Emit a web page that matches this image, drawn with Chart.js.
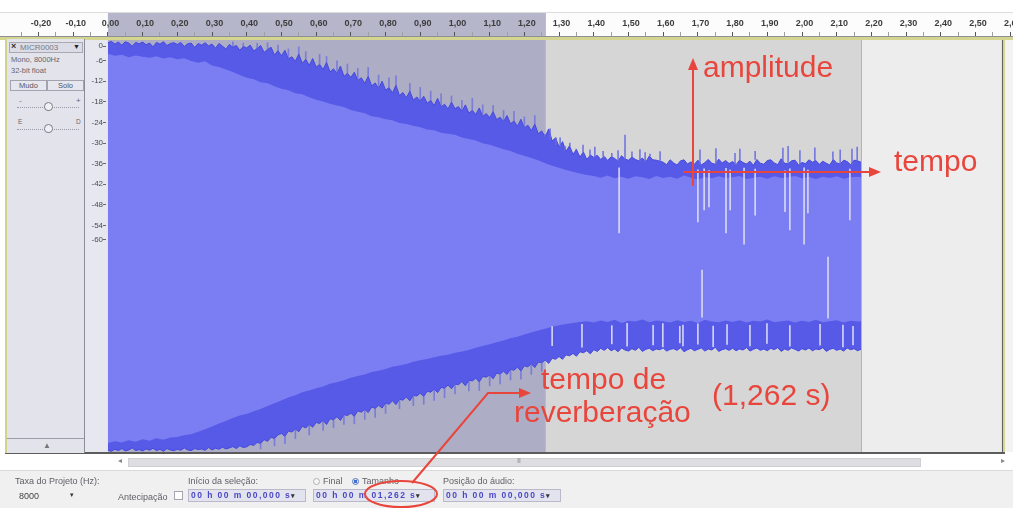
<!DOCTYPE html>
<html lang="pt">
<head>
<meta charset="utf-8">
<title>MICR0003 – tempo de reverberação</title>
<script src="https://cdn.jsdelivr.net/npm/chart.js@4.4.1/dist/chart.umd.min.js"></script>
<style>
  html, body { margin: 0; padding: 0; }
  body { width: 1013px; height: 508px; position: relative; overflow: hidden; background: #fff;
         font-family: "Liberation Sans", Arial, sans-serif; }
  #wave { position: absolute; left: 0; top: 0; }
  .abs { position: absolute; white-space: nowrap; }
  /* track control panel */
  .tp { position: absolute; left: 5px; top: 39px; width: 80px; height: 414px; box-sizing: border-box;
        background: #e3e3ec; border-left: 2px solid #d3d48c; border-right: 1px solid #8c8c98; }
  .namebox { left: 9px; top: 42px; width: 74px; height: 11px; border: 1px solid #a9a9b6; background: #dcdce6; box-sizing: border-box; }
  .small { font-size: 7.5px; color: #66666f; }
  .btn { top: 80px; height: 11px; border: 1px solid #a2a2b0; box-sizing: border-box; font-size: 7.5px; color: #55555e;
         text-align: center; line-height: 9px; background: #e6e6ee; }
  .track { height: 0; border-top: 1px dotted #9a9aa6; }
  .knob { width: 9px; height: 9px; border: 1px solid #7c7c88; border-radius: 50% 50% 45% 45%; background: #f1f1f5; box-sizing: border-box; }
  /* scroll + selection toolbar */
  .scroll { left: 128px; top: 458px; width: 793px; height: 9px; background: #dedee2; border: 1px solid #cfcfd4; box-sizing: border-box; }
  .bar { left: 0; top: 470px; width: 1013px; height: 38px; background: #f0f0f0; border-top: 1px solid #dadada; box-sizing: border-box; }
  .lbl { font-size: 9px; color: #5f5f66; }
  .field { height: 13px; top: 489px; background: #e3e3ef; border: 1px solid #b9b9c9; box-sizing: border-box;
           font-size: 8.5px; font-weight: bold; color: #4848c4; letter-spacing: 1.45px; line-height: 11px; padding-left: 2px; }
  .field i { font-style: normal; color: #333; letter-spacing: 0; font-size: 7px; }
  .radio { width: 7px; height: 7px; border-radius: 50%; box-sizing: border-box; top: 478px; }
  #notes { position: absolute; left: 0; top: 0; pointer-events: none; }
</style>
</head>
<body>
<canvas id="wave" width="1013" height="508"></canvas>

<!-- track control panel -->
<div class="tp"></div>
<div class="abs namebox"></div>
<div class="abs" style="left:11px;top:41px;font-size:9px;font-weight:bold;color:#333;">×</div>
<div class="abs small" style="left:20px;top:43px;font-size:8px;color:#7a7a84;">MICR0003</div>
<div class="abs" style="left:73px;top:43px;font-size:7px;color:#222;">▼</div>
<div class="abs small" style="left:11px;top:55px;">Mono, 8000Hz</div>
<div class="abs small" style="left:11px;top:66px;">32-bit float</div>
<div class="abs btn" style="left:10px;width:37px;">Mudo</div>
<div class="abs btn" style="left:47px;width:37px;">Solo</div>
<div class="abs small" style="left:19px;top:96px;font-size:8px;">-</div>
<div class="abs small" style="left:76px;top:96px;font-size:8px;">+</div>
<div class="abs track" style="left:17px;top:107px;width:62px;"></div>
<div class="abs knob" style="left:44px;top:102px;"></div>
<div class="abs small" style="left:18px;top:118px;font-size:6.5px;">E</div>
<div class="abs small" style="left:76px;top:118px;font-size:6.5px;">D</div>
<div class="abs track" style="left:17px;top:129px;width:62px;"></div>
<div class="abs knob" style="left:44px;top:124px;"></div>
<div class="abs" style="left:7px;top:438px;width:77px;height:0;border-top:1px solid #9c9ca8;"></div>
<div class="abs" style="left:43px;top:441px;font-size:8px;color:#777;">▲</div>

<!-- horizontal scroller -->
<div class="abs" style="left:118px;top:456px;font-size:8px;color:#888;">◂</div>
<div class="abs scroll"></div>
<div class="abs" style="left:517px;top:457px;font-size:7px;color:#999;letter-spacing:-1px;">III</div>
<div class="abs" style="left:1001px;top:456px;font-size:8px;color:#888;">▸</div>

<!-- selection toolbar -->
<div class="abs bar"></div>
<div class="abs lbl" style="left:15px;top:476px;">Taxa do Projeto (Hz):</div>
<div class="abs lbl" style="left:19px;top:491px;color:#444;">8000</div>
<div class="abs lbl" style="left:70px;top:491px;font-size:7px;color:#333;">▾</div>
<div class="abs lbl" style="left:118px;top:492px;">Antecipação</div>
<div class="abs" style="left:174px;top:491px;width:9px;height:9px;border:1px solid #a5a5b0;background:#fff;box-sizing:border-box;"></div>
<div class="abs lbl" style="left:188px;top:476px;">Início da seleção:</div>
<div class="abs field" style="left:188px;width:118px;">00 h 00 m 00,000 s<i>▾</i></div>
<div class="abs radio" style="left:313px;border:1px solid #b0b0b8;background:#f6f6f6;"></div>
<div class="abs lbl" style="left:323px;top:476px;">Final</div>
<div class="abs radio" style="left:352px;border:1px solid #5a78b8;background:radial-gradient(circle,#3e6fd0 45%,#dfe8f8 55%);"></div>
<div class="abs lbl" style="left:362px;top:476px;">Tamanho</div>
<div class="abs field" style="left:313px;width:122px;">00 h 00 m 01,262 s<i>▾</i></div>
<div class="abs lbl" style="left:443px;top:476px;">Posição do áudio:</div>
<div class="abs field" style="left:443px;width:118px;">00 h 00 m 00,000 s<i>▾</i></div>

<!-- red notes -->
<svg id="notes" width="1013" height="508" viewBox="0 0 1013 508">
  <g fill="none" stroke="#e8463c" stroke-width="2">
    <path d="M693 186 V68"/>
    <path d="M683 172 H871"/>
    <path d="M412 483 L488 393 H521"/>
    <ellipse cx="401" cy="494" rx="36" ry="13"/>
  </g>
  <g fill="#e8463c">
    <path d="M693 58 L688 70 L698 70 Z"/>
    <path d="M881 172 L869 167 L869 177 Z"/>
    <path d="M531 393 L519 388 L519 398 Z"/>
  </g>
  <g fill="#e8463c" font-family="Liberation Sans, Arial, sans-serif" font-size="30">
    <text x="703" y="77">amplitude</text>
    <text x="894" y="171">tempo</text>
    <text x="541" y="389">tempo de</text>
    <text x="514" y="422">reverberação</text>
    <text x="712" y="405">(1,262 s)</text>
  </g>
</svg>

<script>
// ---- time line (seconds) ----
const viewStart = -0.311;
const viewEnd = 2.608;
const selectionStart = 0;
const selectionEnd = 1.262;
const clipEnd = 2.17;
const trackEnd = 2.579;

// ruler labels every 0.1 s, minor ticks in between
const rulerMajor = [-0.2, -0.1, 0, 0.1, 0.2, 0.3, 0.4, 0.5, 0.6, 0.7, 0.8, 0.9, 1.0, 1.1, 1.2, 1.3,
  1.4, 1.5, 1.6, 1.7, 1.8, 1.9, 2.0, 2.1, 2.2, 2.3, 2.4, 2.5, 2.6];

// dB meter labels on the track
const dbTicks = [0, -6, -12, -18, -24, -30, -36, -42, -48, -54, -60];
const dbFloor = -60;

// ---- waveform envelope, dB ----
// outer peaks, one value every 10 ms from 0 to 2.17 s
const peakStep = 0.01;
const peakTopDb = [
  -0.8, -0.4, -1.2, -0.6, -1.5, -0.5, -0.9, -1.8, -0.7, -1.1,
  -0.6, -1.4, -0.9, -2.0, -0.7, -1.2, -0.5, -1.6, -1.0, -0.8,
  -1.3, -0.7, -1.9, -1.1, -0.9, -2.2, -1.0, -1.5, -0.8, -1.7,
  -1.2, -2.4, -1.0, -1.8, -2.6, -1.3, -2.1, -1.6, -3.0, -1.9,
  -2.3, -1.5, -3.2, -2.5, -1.6, -3.6, -2.8, -2.1, -4.4, -3.1,
  -4.6, -3.0, -5.5, -4.9, -6.2, -4.1, -6.8, -5.6, -7.4, -5.4,
  -7.9, -7.1, -8.6, -6.5, -9.3, -8.4, -9.8, -7.6, -10.6, -9.7,
  -10.9, -9.4, -11.8, -11.0, -12.6, -10.6, -13.4, -12.5, -14.1, -12.0,
  -14.6, -13.9, -15.4, -13.2, -16.2, -15.3, -16.8, -14.9, -17.5, -16.6,
  -17.8, -16.4, -18.4, -17.6, -19.1, -17.0, -19.5, -18.7, -20.1, -18.1,
  -20.0, -19.4, -20.8, -18.9, -21.3, -20.5, -21.7, -19.8, -22.3, -21.4,
  -22.6, -20.9, -23.2, -22.5, -23.8, -22.0, -24.4, -23.6, -25.1, -23.1,
  -25.6, -24.8, -26.4, -24.5, -27.3, -26.5, -28.2, -25.9, -29.4, -28.5,
  -31.2, -29.6, -32.4, -30.8, -33.3, -31.9, -34.1, -32.6, -34.8, -33.5,
  -34.2, -33.6, -34.8, -33.9, -35.1, -34.0, -34.5, -35.3, -33.7, -34.7,
  -35.0, -34.1, -34.8, -35.2, -34.4, -35.5, -33.8, -34.9, -35.0, -35.3,
  -35.6, -36.3, -34.9, -35.8, -36.4, -35.2, -34.9, -36.1, -35.5, -36.2,
  -35.0, -36.4, -35.7, -34.8, -35.9, -36.2, -34.7, -35.8, -35.1, -36.0,
  -35.4, -36.3, -35.0, -35.7, -36.1, -35.3, -36.5, -34.8, -35.9, -36.2,
  -35.1, -34.9, -35.8, -36.3, -34.6, -35.9, -36.1, -35.2, -35.0, -36.4,
  -35.7, -36.0, -34.9, -35.6, -35.1, -36.2, -35.3, -35.9, -36.4, -34.8,
  -35.8, -36.1, -35.0, -35.4, -36.3, -35.0, -35.2, -35.6
];
const peakBottomDb = [
  -0.5, -0.2, -0.8, -0.4, -1.0, -0.3, -0.6, -1.2, -0.4, -0.7,
  -0.3, -0.9, -0.5, -1.1, -0.4, -0.8, -0.2, -1.0, -0.6, -0.4,
  -0.8, -0.5, -1.2, -0.6, -0.4, -1.0, -0.7, -0.9, -0.5, -1.3,
  -0.6, -1.1, -0.8, -1.4, -0.9, -1.2, -1.6, -1.0, -1.8, -1.3,
  -1.5, -2.2, -1.9, -2.8, -2.5, -3.6, -3.1, -4.3, -3.9, -5.0,
  -5.4, -4.6, -6.1, -5.8, -6.7, -5.9, -7.5, -7.0, -8.1, -7.2,
  -8.6, -8.3, -9.2, -8.0, -9.7, -9.4, -10.3, -9.2, -10.9, -10.6,
  -11.3, -10.4, -12.0, -11.6, -12.4, -11.5, -13.1, -12.7, -13.6, -12.8,
  -14.3, -13.9, -14.9, -13.8, -15.4, -15.1, -16.0, -14.9, -16.5, -16.3,
  -17.1, -16.2, -17.7, -17.4, -18.3, -17.3, -18.8, -18.6, -19.5, -18.4,
  -19.8, -19.6, -20.5, -19.3, -20.9, -20.7, -21.5, -20.4, -22.0, -21.8,
  -22.4, -21.3, -23.0, -22.7, -23.5, -22.6, -24.1, -23.8, -24.7, -23.6,
  -25.1, -24.8, -25.7, -24.6, -26.2, -26.0, -26.8, -25.8, -27.3, -27.0,
  -27.8, -27.0, -28.3, -28.0, -28.7, -27.9, -29.2, -28.9, -29.5, -28.6,
  -29.8, -29.3, -30.2, -29.6, -30.4, -29.5, -30.0, -29.2, -30.3, -29.7,
  -29.4, -30.1, -29.6, -30.5, -29.3, -29.9, -30.2, -29.5, -30.0, -29.8,
  -30.3, -29.4, -29.9, -30.1, -29.6, -30.4, -29.2, -29.8, -30.2, -29.5,
  -29.9, -30.3, -29.4, -30.0, -29.7, -30.5, -29.3, -29.8, -30.1, -29.6,
  -30.2, -29.5, -30.0, -29.7, -30.4, -29.4, -29.9, -30.3, -29.6, -30.0,
  -29.5, -30.2, -29.8, -30.4, -29.3, -30.0, -29.6, -30.3, -29.9, -29.4,
  -30.1, -29.7, -30.3, -29.5, -30.0, -29.8, -30.4, -29.3, -29.9, -30.2,
  -29.6, -30.0, -29.4, -30.3, -29.8, -30.1, -29.5, -29.9
];

// body of the waveform, one value every 20 ms (last one at the clip end)
const fillStep = 0.02;
const fillTopDb = [
  -4.0, -4.6, -4.3, -5.0, -4.5, -4.9, -5.2, -4.7, -5.4, -5.0,
  -5.6, -5.3, -6.1, -6.6, -6.2, -7.4, -7.9, -8.6, -9.3, -10.2,
  -11.0, -11.4, -12.3, -12.6, -13.5, -14.2, -14.6, -15.5, -15.8, -16.7,
  -17.4, -17.9, -18.6, -19.1, -19.5, -20.4, -20.9, -21.3, -22.2, -22.5,
  -23.1, -23.4, -24.2, -24.5, -25.0, -25.4, -26.1, -26.3, -27.0, -27.3,
  -27.6, -28.4, -28.8, -29.3, -30.1, -30.5, -31.2, -31.8, -32.3, -33.1,
  -33.7, -34.4, -35.0, -35.9, -36.6, -37.2, -37.9, -38.4, -38.9, -39.3,
  -39.6, -40.1, -39.5, -40.3, -39.8, -40.4, -39.7, -40.0, -40.5, -39.6,
  -40.2, -39.8, -40.4, -39.5, -40.1, -40.6, -39.9, -40.3, -39.7, -40.2,
  -40.0, -39.6, -40.5, -40.1, -39.8, -40.4, -39.7, -40.2, -40.0, -39.6,
  -40.3, -39.9, -40.5, -39.8, -40.2, -39.7, -40.4, -40.0, -39.8, -40.0
];
const fillBottomDb = [
  -2.6, -3.1, -2.8, -3.4, -3.0, -3.7, -3.3, -4.0, -3.6, -4.2,
  -4.4, -4.9, -5.2, -5.9, -6.6, -7.4, -8.3, -9.0, -9.9, -10.6,
  -11.1, -11.9, -12.5, -13.4, -14.2, -15.0, -15.9, -16.5, -17.4, -17.9,
  -18.6, -19.1, -19.9, -20.3, -20.9, -21.6, -22.1, -22.6, -23.3, -23.7,
  -24.2, -24.8, -25.2, -25.6, -26.3, -26.7, -27.1, -27.6, -28.0, -28.3,
  -28.9, -29.3, -29.7, -30.4, -30.9, -31.4, -32.0, -32.5, -33.1, -33.6,
  -34.2, -34.8, -35.4, -35.9, -36.5, -36.9, -37.3, -37.6, -37.9, -38.1,
  -37.7, -38.3, -37.9, -38.5, -37.6, -38.2, -38.0, -38.6, -37.8, -38.3,
  -38.1, -37.7, -38.4, -37.9, -38.2, -37.6, -38.5, -38.0, -37.8, -38.3,
  -37.9, -38.4, -37.7, -38.2, -38.0, -38.6, -37.8, -38.1, -38.3, -37.7,
  -38.2, -37.9, -38.5, -37.8, -38.1, -38.4, -37.7, -38.2, -38.0, -38.1
];

// isolated peaks above the noise floor (time s, peak dB)
const riseSpikeTimes = [1.259, 1.274, 1.291, 1.303, 1.317, 1.331, 1.349, 1.369, 1.389, 1.403,
  1.427, 1.452, 1.470, 1.490, 1.510, 1.533, 1.548, 1.562, 1.591, 1.706,
  1.752, 1.807, 1.821, 1.865, 1.945, 1.960, 1.994, 2.037, 2.089, 2.110, 2.144, 2.159];
const riseSpikeDb = [-27.5, -29.0, -30.5, -28.5, -31.0, -30.0, -31.8, -30.6, -32.0, -31.2,
  -32.4, -33.0, -32.2, -27.7, -32.6, -31.9, -32.8, -33.2, -32.5, -32.0,
  -31.6, -33.0, -31.8, -32.4, -31.5, -31.0, -32.2, -31.4, -32.6, -32.0, -31.8, -31.2];

// single peaks sticking out of the decaying upper edge (time s, peak dB)
const upperHairTimes = [0.36, 0.39, 0.43, 0.46, 0.49, 0.52, 0.55, 0.57, 0.61, 0.63,
  0.66, 0.69, 0.72, 0.75, 0.78, 0.81, 0.83, 0.87, 0.90, 0.93,
  0.96, 0.99, 1.02, 1.05, 1.08, 1.11, 1.14, 1.17, 1.20, 1.23];
const upperHairDb = [-0.5, -0.9, -1.0, -0.8, -1.5, -2.6, -2.0, -3.4, -4.2, -4.8,
  -6.1, -7.0, -8.3, -8.0, -10.2, -11.0, -10.4, -12.6, -13.8, -14.9,
  -15.7, -16.3, -17.6, -17.0, -18.9, -19.0, -20.5, -20.8, -22.4, -22.0];
// and out of the lower edge
const lowerHairTimes = [0.44, 0.48, 0.51, 0.54, 0.58, 0.62, 0.65, 0.68, 0.71, 0.74,
  0.77, 0.80, 0.84, 0.88, 0.91, 0.94, 0.97, 1.00, 1.04, 1.07,
  1.10, 1.13, 1.16, 1.19, 1.22, 1.25];
const lowerHairDb = [-0.9, -1.8, -2.4, -3.9, -5.0, -6.3, -7.1, -8.0, -8.2, -9.5,
  -10.1, -11.2, -12.6, -13.5, -13.9, -15.0, -15.8, -16.9, -17.8, -17.9,
  -19.3, -19.8, -21.0, -21.2, -22.6, -23.5];

// thin dips into the upper half (time s, from dB, to dB)
const dipTopTimes = [1.473, 1.700, 1.718, 1.732, 1.781, 1.793, 1.833, 1.865, 1.951, 1.965, 2.006, 2.017, 2.138];
const dipTopFromDb = [-37.2, -37.8, -37.5, -38.0, -37.4, -37.9, -37.3, -37.6, -38.1, -37.5, -37.2, -37.9, -37.6];
const dipTopToDb = [-56.2, -53.0, -49.5, -48.6, -56.2, -49.5, -59.5, -51.0, -50.0, -55.3, -59.5, -50.4, -52.4];

// thin dips into the lower half
const dipBottomTimes = [1.280, 1.366, 1.452, 1.496, 1.571, 1.599, 1.648, 1.657, 1.700, 1.712,
  1.744, 1.784, 1.850, 1.899, 1.965, 2.052, 2.075, 2.118, 2.147];
const dipBottomFromDb = [-31.0, -30.5, -31.5, -30.8, -31.2, -30.6, -31.8, -30.9, -31.4, -39.3,
  -30.7, -31.3, -30.9, -31.6, -30.8, -31.1, -39.0, -30.6, -31.2];
const dipBottomToDb = [-36.5, -37.2, -36.8, -37.5, -36.9, -37.4, -36.6, -37.0, -37.3, -53.0,
  -36.7, -37.1, -36.9, -37.4, -36.8, -37.2, -56.8, -37.0, -36.6];

// ---- colours ----
const waveBody = 'rgb(123,125,243)';
const waveEdge = 'rgb(86,90,230)';
const waveEdgeLine = 'rgb(68,72,222)';
const dipColour = 'rgba(224,224,242,0.9)';
const riseColour = 'rgba(100,104,224,0.85)';
const hairColour = 'rgba(90,94,226,0.6)';

// dB view: 0 dB at the track edge, -60 dB on the centre line
const level = db => 1 - db / dbFloor;
const tAt = (i, step) => Math.min(+(i * step).toFixed(3), clipEnd);
const upperHalf = (arr, step) => arr.map((db, i) => ({ x: tAt(i, step), y: level(db) }));
const lowerHalf = (arr, step) => arr.map((db, i) => ({ x: tAt(i, step), y: -level(db) }));
const peakIndex = t => Math.round(t / peakStep);

const riseBars = riseSpikeTimes.map((t, i) => ({ x: t, y: [level(peakTopDb[peakIndex(t)]), level(riseSpikeDb[i])] }));
const hairBars = upperHairTimes.map((t, i) => ({ x: t, y: [level(peakTopDb[peakIndex(t)]), level(upperHairDb[i])] }))
  .concat(lowerHairTimes.map((t, i) => ({ x: t, y: [-level(peakBottomDb[peakIndex(t)]), -level(lowerHairDb[i])] })));
const dipBars = dipTopTimes.map((t, i) => ({ x: t, y: [level(dipTopFromDb[i]), level(dipTopToDb[i])] }))
  .concat(dipBottomTimes.map((t, i) => ({ x: t, y: [-level(dipBottomFromDb[i]), -level(dipBottomToDb[i])] })));

const fmtTime = v => v.toFixed(2).replace('.', ',');
const rulerTicks = [{ value: -0.25, major: false }];
rulerMajor.forEach(v => {
  rulerTicks.push({ value: v, major: true });
  rulerTicks.push({ value: +(v + 0.05).toFixed(2), major: false });
});

// backgrounds of ruler, meter column and track
const trackBackdrop = {
  id: 'trackBackdrop',
  beforeDraw(chart) {
    const { ctx, chartArea: a, scales: { x } } = chart;
    const px = v => x.getPixelForValue(v);
    const W = chart.width;
    ctx.save();
    // ruler
    ctx.fillStyle = '#fcfcfc';
    ctx.fillRect(0, 12, W, a.top - 16);
    ctx.fillStyle = '#dcdcdc';
    ctx.fillRect(0, 12, W, 1);
    ctx.fillStyle = '#b6b6cb';
    ctx.fillRect(px(selectionStart), 13, px(selectionEnd) - px(selectionStart), a.top - 17);
    // right margin
    ctx.fillStyle = '#f3f3f3';
    ctx.fillRect(px(trackEnd), a.top, W - px(trackEnd), a.bottom - a.top);
    // meter column
    ctx.fillStyle = '#e7e7ef';
    ctx.fillRect(85, a.top, px(0) - 85, a.bottom - a.top);
    // track: selected part, rest of the clip, empty part
    ctx.fillStyle = '#adadc5';
    ctx.fillRect(px(selectionStart), a.top, px(selectionEnd) - px(selectionStart), a.bottom - a.top);
    ctx.fillStyle = '#d6d6d6';
    ctx.fillRect(px(selectionEnd), a.top, px(clipEnd) - px(selectionEnd), a.bottom - a.top);
    ctx.fillStyle = '#ededed';
    ctx.fillRect(px(clipEnd), a.top, px(trackEnd) - px(clipEnd), a.bottom - a.top);
    ctx.fillStyle = '#b4b4b4';
    ctx.fillRect(px(clipEnd), a.top, 1, a.bottom - a.top);
    ctx.restore();
  },
  afterDraw(chart) {
    const { ctx, chartArea: a, scales: { x } } = chart;
    const px = v => x.getPixelForValue(v);
    const W = chart.width;
    ctx.save();
    // ruler bottom edge and the focus frame round the track
    ctx.fillStyle = '#8e8e96';
    ctx.fillRect(0, a.top - 4, W, 1);
    ctx.fillStyle = '#d4d58f';
    ctx.fillRect(0, a.top - 3, W, 3);
    ctx.fillRect(px(trackEnd), a.top, 2, a.bottom - a.top);
    ctx.fillStyle = '#5c5c5c';
    ctx.fillRect(px(trackEnd) - 1, a.top, 1, a.bottom - a.top);
    ctx.fillRect(5, a.bottom, px(trackEnd) + 2 - 5, 2);
    ctx.restore();
  }
};

new Chart(document.getElementById('wave'), {
  type: 'line',
  data: {
    datasets: [
      { type: 'bar', data: dipBars, backgroundColor: dipColour, borderWidth: 0, barThickness: 1, grouped: false, order: 0 },
      { type: 'bar', data: riseBars, backgroundColor: riseColour, borderWidth: 0, barThickness: 1, grouped: false, order: 0 },
      { type: 'bar', data: hairBars, backgroundColor: hairColour, borderWidth: 0, barThickness: 1, grouped: false, order: 0 },
      { data: upperHalf(fillTopDb, fillStep), fill: 'origin', backgroundColor: waveBody, borderWidth: 0, pointRadius: 0, order: 1 },
      { data: lowerHalf(fillBottomDb, fillStep), fill: 'origin', backgroundColor: waveBody, borderWidth: 0, pointRadius: 0, order: 1 },
      { data: upperHalf(peakTopDb, peakStep), fill: 'origin', backgroundColor: waveEdge, borderColor: waveEdgeLine, borderWidth: 1, pointRadius: 0, order: 2 },
      { data: lowerHalf(peakBottomDb, peakStep), fill: 'origin', backgroundColor: waveEdge, borderColor: waveEdgeLine, borderWidth: 1, pointRadius: 0, order: 2 }
    ]
  },
  options: {
    responsive: false,
    animation: false,
    devicePixelRatio: 1,
    layout: { padding: { top: 12, bottom: 56, left: 0, right: 0 } },
    plugins: { legend: { display: false }, tooltip: { enabled: false } },
    elements: { line: { tension: 0 } },
    scales: {
      x: {
        type: 'linear',
        position: 'top',
        min: viewStart,
        max: viewEnd,
        offset: false,
        afterBuildTicks: s => { s.ticks = rulerTicks.map(t => ({ ...t })); },
        afterFit: s => { s.height = 28; s.paddingLeft = 0; s.paddingRight = 0; },
        ticks: {
          autoSkip: false, maxRotation: 0, padding: 3, labelOffset: 2.5, color: '#3c3c3c',
          font: { family: 'Liberation Sans', size: 9, weight: 'bold' },
          callback: (v, i, ticks) => (ticks[i].major ? fmtTime(v) : '')
        },
        grid: {
          drawOnChartArea: false, drawTicks: true, tickLength: 8, offset: false,
          tickColor: c => (c.tick && c.tick.major ? '#555' : '#a0a0a0')
        },
        border: { display: false }
      },
      y: {
        type: 'linear',
        min: -1,
        max: 1,
        // meter labels sit just left of the waveform, their tick marks to the right of them
        position: { x: -0.014 },
        afterBuildTicks: s => {
          s.ticks = dbTicks.map(db => ({ value: Math.min(0.97, Math.max(0.03, level(db))) }));
        },
        ticks: {
          color: '#4a4a52', padding: 1,
          font: { family: 'Liberation Sans', size: 8 },
          callback: (v, i) => String(dbTicks[i])
        },
        grid: { drawOnChartArea: false, drawTicks: true, tickLength: -3, tickColor: '#666' },
        border: { display: false }
      }
    }
  },
  plugins: [trackBackdrop]
});
</script>
</body>
</html>
